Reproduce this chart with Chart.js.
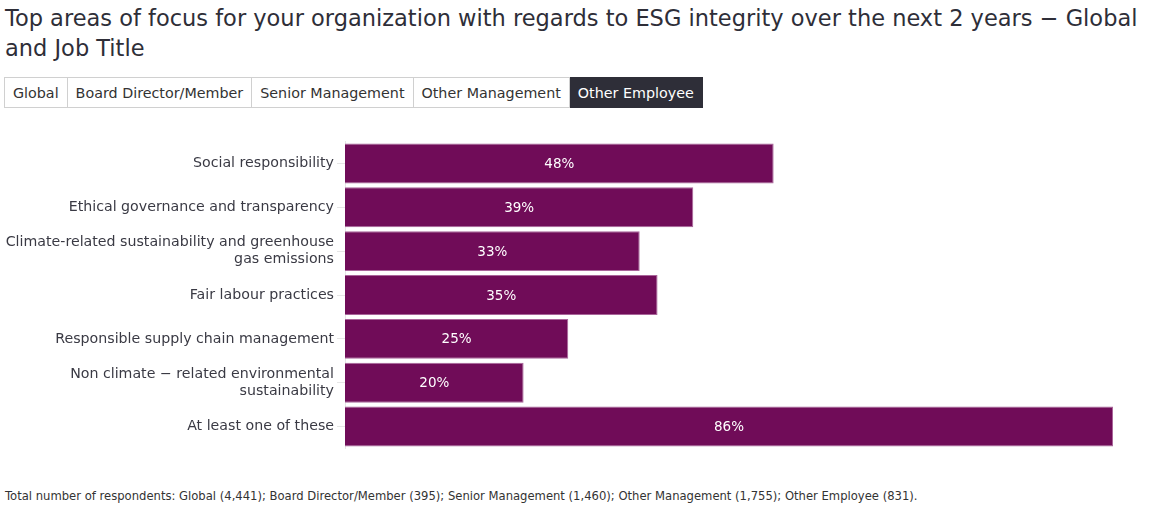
<!DOCTYPE html>
<html><head><meta charset="utf-8">
<script src="https://cdn.jsdelivr.net/npm/chart.js@4.4.0/dist/chart.umd.min.js"></script>
<style>
html,body{margin:0;padding:0;background:#fff;width:1165px;height:514px;overflow:hidden;font-family:"DejaVu Sans",sans-serif;color:#2e2e38;}
#title{position:absolute;left:5px;top:3px;width:1150px;font-size:22.5px;line-height:30px;font-weight:400;color:#2e2e38;}
#tabs{position:absolute;left:4px;top:77px;display:flex;}
.tab{border:1px solid #d0d0d0;border-left:none;height:31px;line-height:30px;padding:0 8px;font-size:14.3px;color:#333;box-sizing:border-box;}
.tab:first-child{border-left:1px solid #d0d0d0;}
.tab.active{background:#2e2e38;color:#fff;border-color:#2e2e38;}
#wrap{position:absolute;left:0;top:130px;width:1165px;height:330px;}
#foot{position:absolute;left:5px;top:489px;font-size:11.6px;color:#333;}
</style></head><body>
<div id="title">Top areas of focus for your organization with regards to ESG integrity over the next 2 years − Global and Job Title</div>
<div id="tabs"><div class="tab">Global</div><div class="tab">Board Director/Member</div><div class="tab">Senior Management</div><div class="tab">Other Management</div><div class="tab active">Other Employee</div></div>
<div id="wrap"><canvas id="c"></canvas></div>
<div id="foot">Total number of respondents: Global (4,441); Board Director/Member (395); Senior Management (1,460); Other Management (1,755); Other Employee (831).</div>
<script>
const categories = [
  "Social responsibility",
  "Ethical governance and transparency",
  ["Climate-related sustainability and greenhouse", "gas emissions"],
  "Fair labour practices",
  "Responsible supply chain management",
  ["Non climate − related environmental", "sustainability"],
  "At least one of these"
];
const values = [48, 39, 33, 35, 25, 20, 86];
const barColor = "#700c58";

const valueLabels = {
  id: "valueLabels",
  afterDatasetsDraw(chart) {
    const ctx = chart.ctx;
    const meta = chart.getDatasetMeta(0);
    ctx.save();
    ctx.fillStyle = "#fff";
    ctx.font = "13.5px 'DejaVu Sans'";
    ctx.textAlign = "center";
    ctx.textBaseline = "middle";
    meta.data.forEach((bar, i) => {
      const x0 = bar.base, x1 = bar.x;
      ctx.fillText(values[i] + "%", (x0 + x1) / 2, bar.y + 1);
    });
    ctx.restore();
  }
};

new Chart(document.getElementById("c"), {
  type: "bar",
  data: {
    labels: categories,
    datasets: [{
      data: values,
      backgroundColor: barColor,
      borderColor: "#a9659a",
      borderWidth: 1,
      barPercentage: 1,
      categoryPercentage: 0.91
    }]
  },
  options: {
    indexAxis: "y",
    responsive: true,
    maintainAspectRatio: false,
    animation: false,
    layout: { padding: { top: 11, bottom: 11, right: 52, left: 0 } },
    plugins: { legend: { display: false }, tooltip: { enabled: false } },
    scales: {
      x: { display: false, min: 0, max: Math.max(...values) },
      y: {
        afterFit(axis) { axis.width = 345; },
        border: { display: true, color: "#e6e6e6", width: 1 },
        grid: { offset: false, drawOnChartArea: false, drawTicks: true, tickLength: 8, color: "#e6e6e6" },
        ticks: { color: "#3a3a44", font: { family: "DejaVu Sans", size: 14.2 }, padding: 3 }
      }
    }
  },
  plugins: [valueLabels]
});
</script>
</body></html>
